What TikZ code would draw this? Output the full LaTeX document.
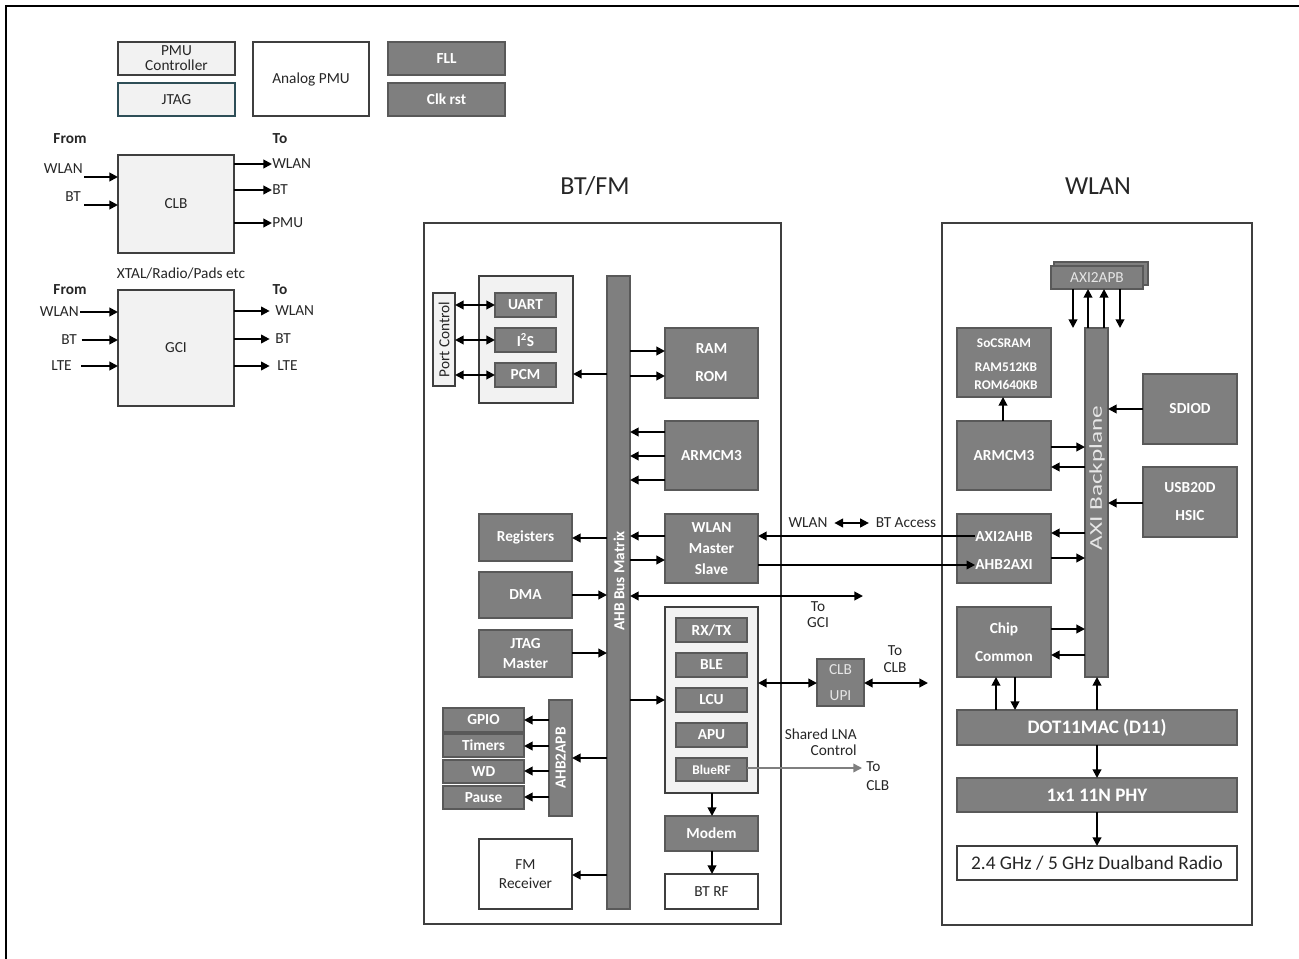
\documentclass[tikz,border=0pt]{standalone}
\usepackage{fontspec}
\setmainfont{Carlito}
\usetikzlibrary{arrows.meta}
\definecolor{dg}{HTML}{7F7F7F}
\definecolor{dgb}{HTML}{595959}
\definecolor{lg}{HTML}{F2F2F2}
\definecolor{ln}{HTML}{3F3F3F}
\definecolor{lt}{HTML}{E6E6E6}
\definecolor{tx}{HTML}{262626}
\definecolor{jt}{HTML}{2E4E57}
\newcommand\fnx[1]{\fontsize{11.5}{#1}\selectfont}
\newcommand\fbx[1]{\fontsize{11.5}{#1}\selectfont\bfseries}
\newcommand\fsb{\fontsize{10}{12}\selectfont\bfseries}
\newcommand\bx[7]{\node[#2,minimum width={(#5-#3)*0.75pt},minimum height={(#6-#4)*0.75pt}] (#1) at ({(#3+#5)/2},{(#4+#6)/2}) {#7};}
\newcommand\harr[4]{\draw[#1] (#2|-0,#4) -- (#3|-0,#4);}
\newcommand\varr[4]{\draw[#1] (#2-|#4,0) -- (#3-|#4,0);}
\begin{document}
\begin{tikzpicture}[x=0.75pt,y=-0.75pt,
  every node/.style={text=tx},
  bbase/.style={inner sep=0pt,outer sep=0pt,line width=0.8pt,align=center},
  dbox/.style={bbase,fill=dg,draw=dgb,text=white,font=\fbx{14}},
  lbox/.style={bbase,fill=lg,draw=ln,font=\fnx{14}},
  wbox/.style={bbase,fill=white,draw=ln,font=\fnx{14}},
  region/.style={bbase,draw=ln,line width=1pt},
  lbl/.style={inner sep=0pt,font=\fnx{14},align=center},
  blbl/.style={lbl,font=\fbx{14}},
  arr/.style={line width=1.4pt,-{Triangle[length=6.5pt,width=6.5pt]}},
  darr/.style={line width=1.4pt,{Triangle[length=6.5pt,width=6.5pt]}-{Triangle[length=6.5pt,width=6.5pt]}},
  garr/.style={line width=1.1pt,draw=dg,-{Triangle[length=6.5pt,width=6.5pt,fill=dg]}},
]
\useasboundingbox (0,0) rectangle (1299,959);
\draw[line width=1.5pt] (6,959) -- (6,6) -- (1299,6);

% ---------- top left ----------
\bx{pmu}{lbox,font=\fnx{11.3}}{118}{42}{235}{75}{PMU\\Controller}
\bx{jtag}{lbox,draw=jt}{118}{83}{235}{116}{JTAG}
\bx{apmu}{wbox}{253}{42}{369}{116}{Analog PMU}
\bx{fll}{dbox}{388}{42}{505}{75}{FLL}
\bx{clk}{dbox}{388}{83}{505}{116}{Clk rst}

\node[blbl] (from1) at (70,139) {From};
\node[blbl] (to1) at (280,139) {To};
\bx{clb}{lbox}{118}{155}{234}{253}{CLB}
\node[lbl,anchor=east] (cinw) at (83,169) {WLAN};
\node[lbl,anchor=east] (cinb) at (81,197) {BT};
\coordinate (cinw1) at (84,177);
\coordinate (cinb1) at (84,205);
\draw[arr] (cinw1) -- (clb.west|-cinw1);
\draw[arr] (cinb1) -- (clb.west|-cinb1);
\node[lbl,anchor=west] (coutw) at (272,164) {WLAN};
\node[lbl,anchor=west] (coutb) at (272,190) {BT};
\node[lbl,anchor=west] (coutp) at (272,223) {PMU};
\draw[arr] (clb.east|-coutw.west) -- (coutw.west);
\draw[arr] (clb.east|-coutb.west) -- (coutb.west);
\draw[arr] (clb.east|-coutp.west) -- (coutp.west);

\node[lbl] (xtal) at (181,274) {XTAL/Radio/Pads etc};
\node[blbl] (from2) at (70,290) {From};
\node[blbl] (to2) at (280,290) {To};
\bx{gci}{lbox}{118}{290}{234}{406}{GCI}
\node[lbl,anchor=east] (ginw) at (79,312) {WLAN};
\node[lbl,anchor=east] (ginb) at (77,340) {BT};
\node[lbl,anchor=east] (ginl) at (72,366) {LTE};
\draw[arr] ([xshift=1pt]ginw.east) -- (gci.west|-ginw.east);
\draw[arr] ([xshift=3.5pt]ginb.east) -- (gci.west|-ginb.east);
\draw[arr] ([xshift=7pt]ginl.east) -- (gci.west|-ginl.east);
\node[lbl,anchor=west] (goutw) at (275,311) {WLAN};
\node[lbl,anchor=west] (goutb) at (275,339) {BT};
\node[lbl,anchor=west] (goutl) at (277,366) {LTE};
\draw[arr] (gci.east|-goutw.west) -- ([xshift=-4pt]goutw.west);
\draw[arr] (gci.east|-goutb.west) -- ([xshift=-4pt]goutb.west);
\draw[arr] (gci.east|-goutl.west) -- ([xshift=-5.5pt]goutl.west);

% ---------- titles ----------
\node[font=\fontsize{19.5}{22}\selectfont] (t1) at (595,186) {BT/FM};
\node[font=\fontsize{19.5}{22}\selectfont] (t2) at (1098,186) {WLAN};

% ---------- BT/FM ----------
\bx{btfm}{region}{424}{223}{781}{924}{}
\bx{pc}{lbox}{433}{293}{455}{386}{}
\node[lbl,rotate=90,font=\fnx{14}] (pct) at (pc.center) {Port Control};
\bx{per}{lbox}{479}{276}{573}{403}{}
\bx{uart}{dbox}{495}{293}{556}{317}{UART}
\bx{i2s}{dbox}{495}{328}{556}{352}{I\textsuperscript{2}S}
\bx{pcm}{dbox}{495}{363}{556}{387}{PCM}
\bx{bus}{dbox}{607}{276}{630}{909}{}
\node[lbl,rotate=90,text=white,font=\fbx{14}] (bust) at (619,581) {AHB Bus Matrix};
\bx{ram}{dbox,font=\fbx{21}}{665}{328}{758}{398}{RAM\\ROM}
\bx{arm}{dbox}{665}{421}{758}{490}{ARMCM3}
\bx{wms}{dbox,font=\fbx{15.5}}{665}{514}{758}{583}{WLAN\\Master\\Slave}
\bx{reg}{dbox}{479}{514}{572}{561}{Registers}
\bx{dma}{dbox}{479}{572}{572}{618}{DMA}
\bx{jm}{dbox,font=\fbx{15}}{479}{630}{572}{677}{JTAG\\Master}
\bx{apb}{dbox}{549}{700}{572}{816}{}
\node[lbl,rotate=90,text=white,font=\fbx{14}] (apbt) at (560.5,758) {AHB2APB};
\bx{gpio}{dbox}{443}{708}{524}{732}{GPIO}
\bx{tim}{dbox}{443}{734}{524}{757}{Timers}
\bx{wd}{dbox}{443}{760}{524}{783}{WD}
\bx{pause}{dbox}{443}{786}{524}{809}{Pause}
\bx{fm}{wbox,font=\fnx{14.5}}{479}{839}{572}{909}{FM\\Receiver}
\bx{core}{lbox}{665}{607}{758}{793}{}
\bx{rxtx}{dbox}{676}{618}{747}{642}{RX/TX}
\bx{ble}{dbox}{676}{653}{747}{677}{BLE}
\bx{lcu}{dbox}{676}{688}{747}{712}{LCU}
\bx{apu}{dbox}{676}{723}{747}{747}{APU}
\bx{bluerf}{dbox,font=\fsb}{676}{758}{747}{781}{BlueRF}
\bx{modem}{dbox}{665}{816}{758}{851}{Modem}
\bx{btrf}{wbox}{665}{874}{758}{909}{BT RF}
\bx{upi}{dbox,text=lt,font=\fnx{19.5}}{817}{659}{864}{706}{CLB\\UPI}

\harr{darr}{pc.east}{uart.west}{305}
\harr{darr}{pc.east}{i2s.west}{340}
\harr{darr}{pc.east}{pcm.west}{375}
\harr{arr}{bus.west}{per.east}{374}
\harr{arr}{bus.east}{ram.west}{351}
\harr{arr}{bus.east}{ram.west}{376}
\harr{arr}{arm.west}{bus.east}{432}
\harr{arr}{arm.west}{bus.east}{456}
\harr{arr}{arm.west}{bus.east}{480}
\harr{arr}{wms.west}{bus.east}{536}
\harr{arr}{bus.east}{wms.west}{560}
\harr{arr}{bus.west}{reg.east}{538}
\harr{arr}{dma.east}{bus.west}{595}
\coordinate (gciend) at (863,596);
\draw[darr] (bus.east|-gciend) -- (gciend);
\harr{arr}{jm.east}{bus.west}{653}
\harr{arr}{bus.east}{core.west}{700}
\harr{arr}{bus.west}{apb.east}{758}
\harr{arr}{apb.west}{gpio.east}{720}
\harr{arr}{apb.west}{tim.east}{746}
\harr{arr}{apb.west}{wd.east}{771}
\harr{arr}{apb.west}{pause.east}{797}
\harr{arr}{bus.west}{fm.east}{875}
\varr{arr}{core.south}{modem.north}{712}
\varr{arr}{modem.south}{btrf.north}{712}
\harr{darr}{core.east}{upi.west}{683}
\coordinate (clbend) at (928,683);
\draw[darr] (upi.east|-clbend) -- (clbend);
\coordinate (lnaend) at (862,768);
\draw[garr] (bluerf.east|-lnaend) -- (lnaend);

\node[lbl] (wl) at (808,523) {WLAN};
\node[lbl] (ba) at (906,523) {BT Access};
\draw[darr] ([xshift=5pt]wl.east) -- ([xshift=-5pt]ba.west);
\node[lbl,font=\fnx{12}] (togci) at (818,615) {To\\GCI};
\node[lbl,font=\fnx{12.5}] (toclba) at (895,659) {To\\CLB};
\node[lbl,font=\fnx{12},align=right,anchor=east] (lna) at (857,742) {Shared LNA\\Control};
\node[lbl,font=\fnx{14},align=left,anchor=west] (toclbb) at (866,776) {To\\CLB};

% ---------- WLAN ----------
\bx{wlan}{region}{942}{223}{1252}{925}{}
\bx{apbs}{dbox}{1054}{262}{1148}{285}{}
\bx{axapb}{dbox,text=lt,font=\fnx{14}}{1051}{266}{1143}{289}{AXI2APB}
\bx{bp}{dbox}{1085}{328}{1108}{677}{}
\node[lbl,rotate=90,xscale=1.4,text=lt,font=\fontsize{13.5}{16}\selectfont] (bpt) at (1097,478) {AXI Backplane};
\varr{arr}{axapb.south}{bp.north}{1073}
\varr{arr}{bp.north}{axapb.south}{1088}
\varr{arr}{bp.north}{axapb.south}{1104}
\varr{arr}{axapb.south}{bp.north}{1120}

\bx{sram}{dbox}{957}{328}{1051}{397}{}
\node[lbl,text=white,font=\fsb] (s1) at (1004,343) {SoCSRAM};
\node[lbl,text=white,font=\fsb] (s2) at (1006,367) {RAM512KB};
\node[lbl,text=white,font=\fsb] (s3) at (1006,385) {ROM640KB};
\bx{armw}{dbox}{957}{421}{1051}{490}{ARMCM3}
\varr{arr}{armw.north}{sram.south}{1003}
\harr{arr}{armw.east}{bp.west}{447}
\harr{arr}{bp.west}{armw.east}{467}
\bx{sdio}{dbox}{1143}{374}{1237}{444}{SDIOD}
\harr{arr}{sdio.west}{bp.east}{409}
\bx{usb}{dbox,font=\fbx{21}}{1143}{467}{1237}{537}{USB20D\\HSIC}
\harr{arr}{usb.west}{bp.east}{503}
\bx{axb}{dbox}{957}{514}{1051}{583}{}
\node[lbl,text=white,font=\fbx{14}] (axt) at (1004,536) {AXI2AHB};
\node[lbl,text=white,font=\fbx{14}] (hbt) at (1004,564) {AHB2AXI};
\harr{arr}{bp.west}{axb.east}{533}
\harr{arr}{axb.east}{bp.west}{558}
\draw[arr] (axt.west) -- (wms.east|-axt.west);
\draw[arr] (wms.east|-0,565) -- (hbt.west|-0,565);
\bx{chip}{dbox,font=\fbx{21}}{957}{607}{1051}{677}{Chip\\Common}
\harr{arr}{chip.east}{bp.west}{629}
\harr{arr}{bp.west}{chip.east}{655}
\bx{mac}{dbox,font=\fontsize{14.3}{16}\selectfont\bfseries}{957}{710}{1237}{745}{DOT11MAC (D11)}
\varr{arr}{mac.north}{chip.south}{996}
\varr{arr}{chip.south}{mac.north}{1015}
\varr{arr}{mac.north}{bp.south}{1097}
\bx{phy}{dbox,font=\fontsize{14.3}{16}\selectfont\bfseries}{957}{778}{1237}{812}{1x1 11N PHY}
\varr{arr}{mac.south}{phy.north}{1097}
\bx{radio}{wbox,font=\fontsize{14.5}{16}\selectfont}{957}{846}{1237}{880}{2.4 GHz / 5 GHz Dualband Radio}
\varr{arr}{phy.south}{radio.north}{1097}
\end{tikzpicture}
\end{document}
